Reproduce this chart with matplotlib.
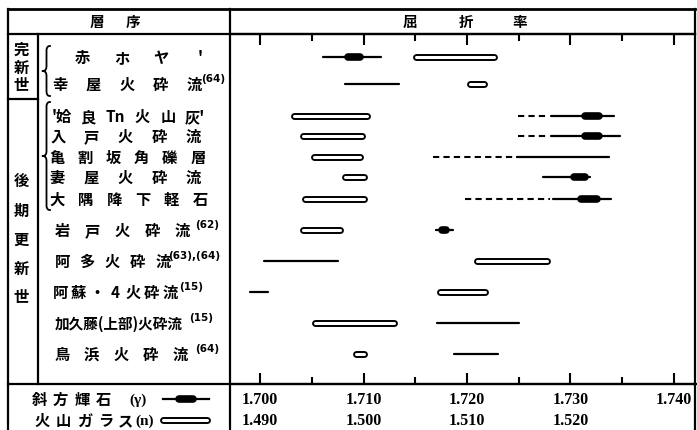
import matplotlib
matplotlib.use("Agg")
import matplotlib.pyplot as plt
import numpy as np

plt.rcParams['font.family'] = ['Noto Sans CJK JP', 'DejaVu Sans']

# 데이터: 斜方輝石(γ) と 火山ガラス(n) の屈折率の範囲
labels = [
    ["赤", "ホ", "ヤ", "'"],
    ["幸", "屋", "火", "砕", "流"],
    ["'姶", "良", "Tn", "火", "山", "灰'"],
    ["入", "戸", "火", "砕", "流"],
    ["亀", "割", "坂", "角", "礫", "層"],
    ["妻", "屋", "火", "砕", "流"],
    ["大", "隅", "降", "下", "軽", "石"],
    ["岩", "戸", "火", "砕", "流"],
    ["阿", "多", "火", "砕", "流"],
    ["阿", "蘇", "・", "4", "火", "砕", "流"],
    ["加久藤(上部)火砕流"],
    ["鳥", "浜", "火", "砕", "流"],
]
refs = ["", "(64)", "", "", "", "", "", "(62)", "(63),(64)", "(15)", "(15)", "(64)"]

gamma_lo = [1.7061, 1.7082, 1.7281, 1.7281, 1.7248, 1.7273, 1.7283, 1.7170, 1.7004, 1.6990, 1.7171, 1.7187]
gamma_hi = [1.7117, 1.7134, 1.7342, 1.7348, 1.7337, 1.7319, 1.7339, 1.7186, 1.7075, 1.7008, 1.7250, 1.7230]
core_lo = [1.7085, None, 1.7314, 1.7314, None, 1.7303, 1.7310, 1.7176, None, None, None, None]
core_hi = [1.7097, None, 1.7328, 1.7328, None, 1.7314, 1.7326, 1.7180, None, None, None, None]
dash_lo = [None, None, 1.7249, 1.7249, 1.7167, None, 1.7198, None, None, None, None, None]
dash_hi = [None, None, 1.7278, 1.7278, 1.7248, None, 1.7280, None, None, None, None, None]
glass_lo = [1.5051, 1.5103, 1.4933, 1.4942, 1.4952, 1.4982, 1.4943, 1.4942, 1.5110, 1.5074, 1.4953, 1.4993]
glass_hi = [1.5126, 1.5116, 1.5003, 1.4999, 1.4997, 1.5000, 1.5000, 1.4977, 1.5177, 1.5117, 1.5029, 1.5000]

gamma_ticks = [1.700, 1.710, 1.720, 1.730, 1.740]
glass_ticks = [1.490, 1.500, 1.510, 1.520]
GLASS_OFFSET = 0.210

# 레이아웃 (픽셀 좌표)
row_y = [58, 85, 117, 137, 158, 178, 200, 231, 262, 293, 324, 355]
label_span = [(82, 200), (60, 194), (62, 195), (58, 193), (57, 198), (57, 193), (57, 200),
              (62, 182), (62, 163), (60, 170), (55, 55), (62, 180)]
ref_x = [0, 201, 0, 0, 0, 0, 0, 195, 168, 179, 189, 195]


def gamma_bar(a, y, lo, hi, clo=None, chi=None, dlo=None, dhi=None):
    if dlo is not None:
        a.plot([dlo, dhi], [y, y], color='black', lw=1.5, ls=(0, (3, 2)), solid_capstyle='butt')
    a.plot([lo, hi], [y, y], color='black', lw=1.6, solid_capstyle='round')
    if clo is not None:
        a.plot([clo, chi], [y, y], color='black', lw=5.5, solid_capstyle='round')


def glass_bar(a, y, lo, hi):
    a.plot([lo, hi], [y, y], color='black', lw=5, solid_capstyle='round')
    a.plot([lo, hi], [y, y], color='white', lw=2.2, solid_capstyle='round')


def bezier(p0, p1, p2, n=20):
    t = np.linspace(0, 1, n)[:, None]
    return (1 - t) ** 2 * np.array(p0) + 2 * (1 - t) * t * np.array(p1) + t ** 2 * np.array(p2)


def brace(a, y0, y1, ym, x=46.5):
    top = np.vstack([bezier((x + 3.5, y0), (x, y0), (x, y0 + 5)),
                     bezier((x, ym - 5), (x, ym), (x - 4, ym))])
    bot = np.vstack([bezier((x - 4, ym), (x, ym), (x, ym + 5)),
                     bezier((x, y1 - 5), (x, y1), (x + 3.5, y1))])
    pts = np.vstack([top, bot])
    a.plot(pts[:, 0], pts[:, 1], color='black', lw=1.3)


fig = plt.figure(figsize=(6.97, 4.31), dpi=100)
frame = fig.add_axes([0, 0, 1, 1])
frame.set_xlim(0, 697)
frame.set_ylim(431, 0)
frame.axis('off')

# 표 테두리
lw = 1.6
frame.plot([8, 695], [10, 10], color='black', lw=2)
frame.plot([8, 695], [35, 35], color='black', lw=lw)
frame.plot([8, 8], [10, 431], color='black', lw=lw)
frame.plot([695, 695], [10, 431], color='black', lw=lw)
frame.plot([230, 230], [10, 431], color='black', lw=lw)
frame.plot([38, 38], [35, 385], color='black', lw=lw)
frame.plot([8, 38], [100, 100], color='black', lw=lw)
frame.plot([8, 697], [385, 385], color='black', lw=lw)

txt = dict(color='black', fontweight='bold', ha='center', va='center')
frame.text(97, 22, "層", fontsize=10.5, **txt)
frame.text(133, 22, "序", fontsize=10.5, **txt)
for ch, x in zip("屈折率", [410, 466, 520]):
    frame.text(x, 22, ch, fontsize=10.5, **txt)

for ch, y in zip("完新世", [50, 68, 85]):
    frame.text(21, y, ch, fontsize=11, **txt)
for ch, y in zip("後期更新世", [181, 211, 240, 269, 297]):
    frame.text(21, y, ch, fontsize=11, **txt)

brace(frame, 47, 97, 72)
brace(frame, 103, 211, 157)

# 층서 라벨
for i, toks in enumerate(labels):
    y = row_y[i]
    x0, x1 = label_span[i]
    if len(toks) == 1:
        frame.text(x0, y, toks[0], fontsize=10.5, color='black', fontweight='bold', ha='left', va='center')
    else:
        for x, tk in zip(np.linspace(x0, x1, len(toks)), toks):
            frame.text(x, y, tk, fontsize=11, **txt)
    if refs[i]:
        frame.text(ref_x[i], y - 6, refs[i], fontsize=7.5, color='black', fontweight='bold',
                   ha='left', va='center', family='DejaVu Sans')

# 범례
for ch, x in zip("斜方輝石", [40, 60, 82, 103]):
    frame.text(x, 400, ch, fontsize=11, **txt)
frame.text(138, 400, "(γ)", fontsize=11, color='black', fontweight='bold', ha='center', va='center',
           family='Liberation Serif')
frame.plot([163, 209], [400, 400], color='black', lw=1.6)
frame.plot([179, 193], [400, 400], color='black', lw=5.5, solid_capstyle='round')
for ch, x in zip("火山ガラス", [42, 63, 85, 106, 125]):
    frame.text(x, 421, ch, fontsize=11, **txt)
frame.text(145, 421, "(n)", fontsize=11, color='black', fontweight='bold', ha='center', va='center',
           family='Liberation Serif')
frame.plot([163, 207], [421, 421], color='black', lw=5, solid_capstyle='round')
frame.plot([163, 207], [421, 421], color='white', lw=2.2, solid_capstyle='round')

# 屈折率 그래프
ax = fig.add_axes([230 / 697, 46 / 431, 465 / 697, 350 / 431])
ax.patch.set_alpha(0)
ax.set_xlim(1.6971, 1.74203)
ax.set_ylim(385, 35)
ax.spines['left'].set_visible(False)
ax.spines['right'].set_visible(False)
ax.spines['top'].set_linewidth(1.6)
ax.spines['bottom'].set_linewidth(1.6)
ax.set_yticks([])

for i, y in enumerate(row_y):
    gamma_bar(ax, y, gamma_lo[i], gamma_hi[i], core_lo[i], core_hi[i], dash_lo[i], dash_hi[i])
    glass_bar(ax, y, glass_lo[i] + GLASS_OFFSET, glass_hi[i] + GLASS_OFFSET)

ax.set_xticks(gamma_ticks)
ax.set_xticks(np.arange(1.705, 1.740, 0.010), minor=True)
ax.set_xticklabels(["%.3f" % v for v in gamma_ticks], fontfamily='Liberation Serif',
                   fontweight='bold', fontsize=11.5)
ax.tick_params(axis='x', which='both', top=True, bottom=True, direction='in', width=1.5, pad=5)
ax.tick_params(axis='x', which='major', length=8)
ax.tick_params(axis='x', which='minor', length=5)

sec = ax.secondary_xaxis('bottom', functions=(lambda v: v - GLASS_OFFSET, lambda n: n + GLASS_OFFSET))
sec.set_xticks(glass_ticks)
sec.set_xticklabels(["%.3f" % v for v in glass_ticks], fontfamily='Liberation Serif',
                    fontweight='bold', fontsize=11.5)
sec.tick_params(axis='x', length=0, pad=20)
sec.spines['bottom'].set_visible(False)

plt.savefig('out.png', dpi=100)
